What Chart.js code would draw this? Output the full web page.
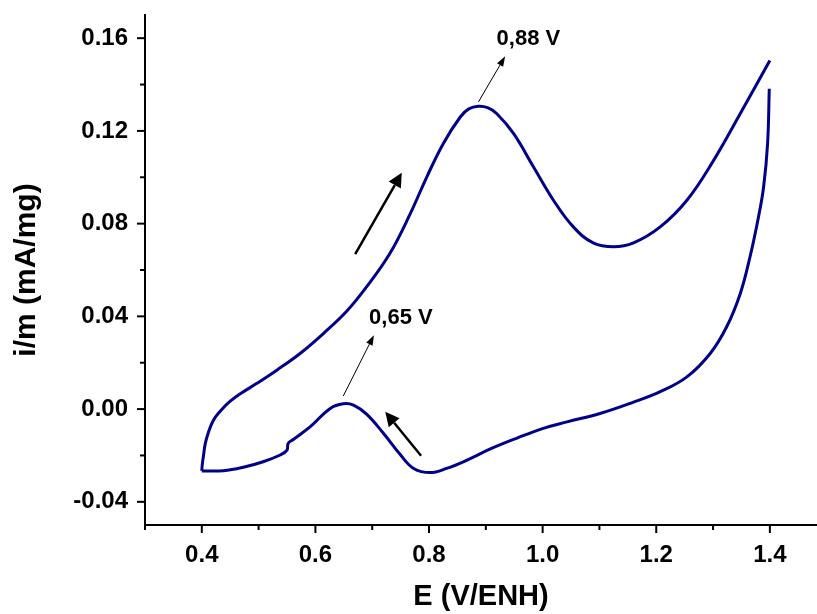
<!DOCTYPE html>
<html>
<head>
<meta charset="utf-8">
<script src="https://cdn.jsdelivr.net/npm/chart.js@4"></script>
<style>
  html, body { margin: 0; padding: 0; background: #fff; }
  #wrap { width: 817px; height: 614px; }
</style>
</head>
<body>
<div id="wrap"><canvas id="cv"></canvas></div>
<script>
// Anodic sweep (0.4 V -> 1.4 V)
const anodicE = [0.400, 0.401, 0.403, 0.406, 0.411, 0.420, 0.432, 0.448, 0.467, 0.497, 0.532, 0.573, 0.614, 0.655,
  0.690, 0.731, 0.767, 0.796, 0.825, 0.855, 0.870, 0.887, 0.903, 0.919, 0.949, 0.984, 1.019, 1.054, 1.089,
  1.125, 1.160, 1.207, 1.254, 1.301, 1.348, 1.400]
const anodicI = [-0.0267, -0.0235, -0.0200, -0.0150, -0.0105, -0.0050, -0.0010, 0.0030, 0.0065, 0.0111, 0.0168, 0.0240, 0.0326, 0.0422,
  0.0527, 0.0671, 0.0843, 0.1001, 0.1145, 0.1260, 0.1295, 0.1306, 0.1300, 0.1275, 0.1188, 0.1044, 0.0901, 0.0786, 0.0717,
  0.0700, 0.0717, 0.0786, 0.0901, 0.1073, 0.1275, 0.1504]

// Cathodic sweep (1.4 V -> 0.4 V)
const cathodicE = [1.399, 1.396, 1.389, 1.380, 1.365, 1.348, 1.324, 1.295, 1.254, 1.207, 1.160, 1.101,
  1.043, 1.001, 0.955, 0.908, 0.867, 0.831, 0.802, 0.773, 0.749, 0.720, 0.690, 0.667, 0.649, 0.626, 0.591, 0.561,
  0.552, 0.550, 0.538, 0.508, 0.473, 0.438, 0.400]
const cathodicI = [0.1382, 0.1145, 0.0958, 0.0829, 0.0656, 0.0499, 0.0355, 0.0240, 0.0139, 0.0075, 0.0030, -0.0019,
  -0.0055, -0.0083, -0.0125, -0.0172, -0.0220, -0.0256, -0.0274, -0.0256, -0.0195, -0.0105, -0.0022, 0.0017, 0.0023, 0.0003, -0.0076, -0.0131,
  -0.0148, -0.0177, -0.0198, -0.0227, -0.0251, -0.0266, -0.0267]

// axis ticks
const xMajor = [0.4, 0.6, 0.8, 1.0, 1.2, 1.4]
const xMinor = [0.3, 0.5, 0.7, 0.9, 1.1, 1.3]
const yMajor = [-0.04, 0.00, 0.04, 0.08, 0.12, 0.16]
const yMinor = [-0.02, 0.02, 0.06, 0.10, 0.14]

// peak annotations (data units)
const peakLabels = ["0,88 V", "0,65 V"]
const peakLabelAt = [[0.919, 0.1597], [0.6945, 0.0392]]
const peakArrowFrom = [[0.887, 0.1325], [0.649, 0.0056]]
const peakArrowTo = [[0.934, 0.1522], [0.703, 0.0319]]
// scan direction arrows
const scanArrowFrom = [[0.670, 0.0668], [0.786, -0.0201]]
const scanArrowTo = [[0.752, 0.1019], [0.723, -0.0012]]

const FONT = "'Liberation Sans', Arial, sans-serif"
const LINE = "#000088"

const toXY = (xs, ys) => xs.map((x, i) => ({ x: x, y: ys[i] }))
const isIn = (arr, v) => arr.some(a => Math.abs(a - v) < 1e-6)

function drawArrow(ctx, x1, y1, x2, y2, width, headLen, headHalf) {
  const ang = Math.atan2(y2 - y1, x2 - x1)
  const bx = x2 - headLen * Math.cos(ang)
  const by = y2 - headLen * Math.sin(ang)
  ctx.beginPath()
  ctx.lineWidth = width
  ctx.moveTo(x1, y1)
  ctx.lineTo(bx, by)
  ctx.stroke()
  ctx.beginPath()
  ctx.moveTo(x2, y2)
  ctx.lineTo(bx + headHalf * Math.sin(ang), by - headHalf * Math.cos(ang))
  ctx.lineTo(bx - headHalf * Math.sin(ang), by + headHalf * Math.cos(ang))
  ctx.closePath()
  ctx.fill()
}

// outward tick marks, long for major and short for minor
const tickMarks = {
  id: "tickMarks",
  afterDraw(chart) {
    const ctx = chart.ctx
    const xs = chart.scales.x
    const ys = chart.scales.y
    const area = chart.chartArea
    ctx.save()
    ctx.strokeStyle = "#000"
    ctx.lineWidth = 2
    xs.ticks.forEach(t => {
      const px = xs.getPixelForValue(t.value)
      const len = isIn(xMajor, t.value) ? 8 : 5
      ctx.beginPath()
      ctx.moveTo(px, area.bottom)
      ctx.lineTo(px, area.bottom + len)
      ctx.stroke()
    })
    ys.ticks.forEach(t => {
      const py = ys.getPixelForValue(t.value)
      const len = isIn(yMajor, t.value) ? 8 : 5
      ctx.beginPath()
      ctx.moveTo(area.left, py)
      ctx.lineTo(area.left - len, py)
      ctx.stroke()
    })
    ctx.restore()
  }
}

const annotations = {
  id: "annotations",
  afterDatasetsDraw(chart) {
    const ctx = chart.ctx
    const xs = chart.scales.x
    const ys = chart.scales.y
    const P = p => [xs.getPixelForValue(p[0]), ys.getPixelForValue(p[1])]
    ctx.save()
    ctx.strokeStyle = "#000"
    ctx.fillStyle = "#000"
    scanArrowFrom.forEach((f, i) => {
      const a = P(f), b = P(scanArrowTo[i])
      drawArrow(ctx, a[0], a[1], b[0], b[1], 2.5, 14, 7)
    })
    peakArrowFrom.forEach((f, i) => {
      const a = P(f), b = P(peakArrowTo[i])
      drawArrow(ctx, a[0], a[1], b[0], b[1], 1, 10, 3.5)
    })
    ctx.font = "bold 22px " + FONT
    ctx.textAlign = "left"
    ctx.textBaseline = "middle"
    peakLabels.forEach((txt, i) => {
      const p = P(peakLabelAt[i])
      ctx.fillText(txt, p[0], p[1])
    })
    ctx.restore()
  }
}

const lineStyle = {
  borderColor: LINE,
  borderWidth: 3,
  pointRadius: 0,
  fill: false,
  tension: 0.4
}

new Chart(document.getElementById("cv"), {
  type: "scatter",
  data: {
    datasets: [
      Object.assign({ label: "anodic", data: toXY(anodicE, anodicI), showLine: true }, lineStyle),
      Object.assign({ label: "cathodic", data: toXY(cathodicE, cathodicI), showLine: true }, lineStyle)
    ]
  },
  options: {
    responsive: true,
    maintainAspectRatio: false,
    animation: false,
    layout: { padding: { top: 15, right: 0, left: 0, bottom: 0 } },
    plugins: {
      legend: { display: false },
      tooltip: { enabled: false }
    },
    scales: {
      x: {
        type: "linear",
        min: 0.3,
        max: 1.483,
        afterBuildTicks: s => {
          s.ticks = xMajor.concat(xMinor).sort((a, b) => a - b).map(v => ({ value: v }))
        },
        afterFit: s => {
          s.height = 89
          s.paddingLeft = 0
          s.paddingRight = 0
        },
        grid: { display: false, drawTicks: false },
        border: { display: true, color: "#000", width: 2 },
        ticks: {
          padding: 16,
          color: "#000",
          font: { family: FONT, size: 24, weight: "bold" },
          callback: v => isIn(xMajor, v) ? v.toFixed(1) : ""
        },
        title: {
          display: true,
          text: "E (V/ENH)",
          color: "#000",
          font: { family: FONT, size: 29, weight: "bold" },
          padding: { top: 0, bottom: 0 }
        }
      },
      y: {
        type: "linear",
        min: -0.05,
        max: 0.17,
        afterBuildTicks: s => {
          s.ticks = yMajor.concat(yMinor).sort((a, b) => a - b).map(v => ({ value: v }))
        },
        afterFit: s => {
          s.width = 145
          s.paddingTop = 0
          s.paddingBottom = 0
        },
        grid: { display: false, drawTicks: false },
        border: { display: true, color: "#000", width: 2 },
        ticks: {
          padding: 17,
          color: "#000",
          font: { family: FONT, size: 24, weight: "bold" },
          callback: v => isIn(yMajor, v) ? v.toFixed(2) : ""
        },
        title: {
          display: true,
          text: "i/m (mA/mg)",
          color: "#000",
          font: { family: FONT, size: 30, weight: "bold" },
          padding: { top: 9, bottom: 0 }
        }
      }
    }
  },
  plugins: [tickMarks, annotations]
})
</script>
</body>
</html>
